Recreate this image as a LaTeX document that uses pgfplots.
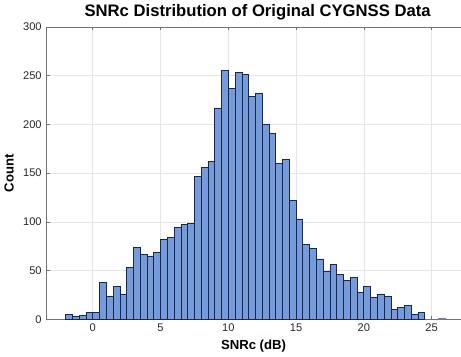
\documentclass[border=0pt]{standalone}
\usepackage{pgfplots}
\pgfplotsset{compat=1.18}
\usepackage{fontspec}
\setmainfont{Liberation Sans}
\definecolor{barfill}{RGB}{118,155,218}
\definecolor{baredge}{RGB}{28,38,70}
\definecolor{tickgray}{RGB}{38,38,38}
\begin{document}
\begin{tikzpicture}[x=1pt,y=1pt]
\begin{axis}[
  scale only axis,
  width=306pt, height=216pt,
  xmin=-3.42, xmax=27.15,
  ymin=0, ymax=300,
  xtick={0,5,10,15,20,25},
  ytick={0,50,100,150,200,250,300},
  axis x line=box, axis y line=left,
  axis line style={-, draw=black!55, line width=0.5pt},
  tick align=inside,
  major tick length=2.5pt,
  tick style={black!55, line width=0.4pt},
  xtick pos=both,
  grid=major,
  grid style={black!10, line width=0.4pt},
  ticklabel style={font=\fontsize{8.2}{9}\selectfont, text=tickgray},
  /pgf/number format/assume math mode=true,
  title={\bfseries SNRc Distribution of Original CYGNSS Data},
  title style={font=\fontsize{12.3}{14}\selectfont, yshift=-4.5pt, xshift=3pt},
  xlabel={\bfseries SNRc (dB)},
  ylabel={\bfseries Count},
  label style={font=\fontsize{9.7}{11}\selectfont},
  xlabel style={yshift=1pt},
  ylabel style={yshift=0pt},
]
\addplot[ybar interval, fill=barfill, draw=baredge, line width=0.45pt] coordinates {
(-2.0,5) (-1.5,3) (-1.0,4) (-0.5,7) (0.0,7) (0.5,38) (1.0,24) (1.5,34) (2.0,26) (2.5,53)
(3.0,74) (3.5,67) (4.0,65) (4.5,69) (5.0,82) (5.5,84) (6.0,94) (6.5,97) (7.0,98.5) (7.5,147)
(8.0,156) (8.5,162) (9.0,217) (9.5,255) (10.0,237) (10.5,253) (11.0,251) (11.5,229) (12.0,232) (12.5,200)
(13.0,191) (13.5,160) (14.0,164) (14.5,122) (15.0,103) (15.5,77) (16.0,73) (16.5,62) (17.0,49) (17.5,56)
(18.0,46) (18.5,40) (19.0,43) (19.5,28) (20.0,34) (20.5,23) (21.0,26) (21.5,24) (22.0,10) (22.5,12)
(23.0,14) (23.5,5) (24.0,7) (24.5,0)
};
\addplot[ybar interval, fill=barfill, draw=baredge!60, line width=0.45pt] coordinates {
(25.5,1) (26.0,0)
};
\end{axis}
\end{tikzpicture}
\end{document}
